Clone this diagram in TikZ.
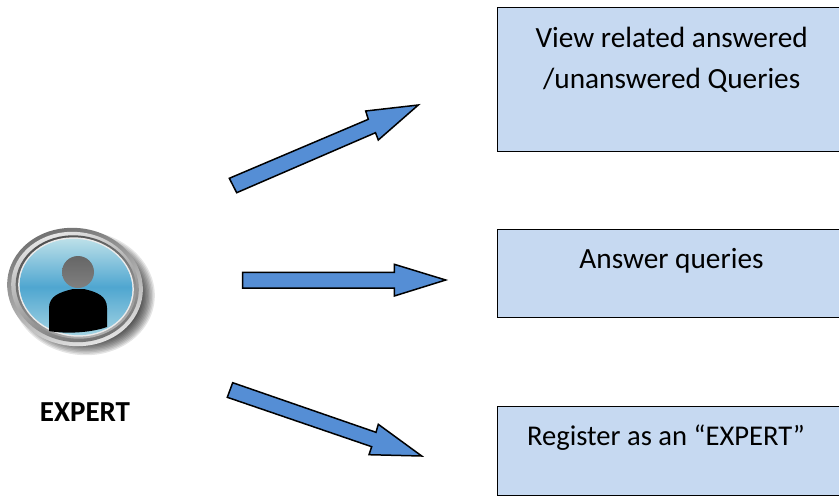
\documentclass[tikz,border=0pt]{standalone}
\usepackage{fontspec}
\setmainfont{Carlito}
\definecolor{boxfill}{HTML}{C6D9F1}
\definecolor{arrowfill}{HTML}{558ED5}
\definecolor{skytop}{HTML}{C4E4EA}
\definecolor{skymid}{HTML}{4FA6D0}
\definecolor{skybot}{HTML}{A8D6E4}
\definecolor{ringlite}{HTML}{E8E8E8}
\definecolor{ringdark}{HTML}{6E6E6E}
\tikzset{
  boxst/.style={draw=black,line width=1pt,fill=boxfill},
  boxtext/.style={font=\fontsize{29.3pt}{41pt}\selectfont,align=center,text=black,inner sep=0pt},
  blockarrow/.style={draw=black,line width=1.5pt,fill=arrowfill,line join=miter},
}
\begin{document}
\begin{tikzpicture}[x=1pt,y=-1pt]
\useasboundingbox (0,0) rectangle (839,496);
% boxes
\draw[boxst] (497,7) rectangle (845,151);
\draw[boxst] (497,229) rectangle (845,317);
\draw[boxst] (497,406) rectangle (845,495);
\node[boxtext] (t1) at (671.7,59.5) {View related answered\\/unanswered Queries};
\node[boxtext] (t2) at (671.5,260.5) {Answer queries};
\node[boxtext,font=\fontsize{28.6pt}{41pt}\selectfont] (t3) at (666,438) {Register as an “EXPERT”};
% arrows
\draw[blockarrow] (229.3,178.3)--(368.3,119.3)--(365.7,111)--(418.3,105)--(378.3,140)--(375.5,132.7)--(236.7,192.7)--cycle;
\draw[blockarrow] (242.7,272.3)--(394.3,272.3)--(394.3,264.3)--(445.7,280)--(394.3,296)--(394.3,288)--(242.7,288)--cycle;
\draw[blockarrow] (232.7,382.7)--(376,432.3)--(378.3,424.3)--(421.7,456)--(369,454.7)--(371.7,446.7)--(227.3,397.3)--cycle;
% icon shadow
\foreach \k in {0,...,9}{
  \fill[black,opacity=0.10,rotate around={-8:(83,293)}] (83,293) ellipse ({72-\k*1.4} and {62-\k*1.4});
}
% icon ring
\shade[top color=ringdark,bottom color=ringlite,middle color=ringdark!60!white,shading angle=20,rotate around={-8:(75,287)}] (75,287) ellipse (68 and 59);
\shade[top color=ringlite,bottom color=ringdark,shading angle=20,rotate around={-8:(75,287)}] (75,287) ellipse (64 and 55);
\shade[top color=black!70,bottom color=black!30,shading angle=20,rotate around={-8:(76,287)}] (76,287) ellipse (60.5 and 51.5);
\fill[white!92!black,rotate around={-8:(76,287)}] (76,287) ellipse (58 and 49.5);
\shade[top color=skytop,bottom color=skybot,middle color=skymid,rotate around={-8:(76,287)}] (76,287) ellipse (56.5 and 48);
% silhouette
\shade[top color=black!60,bottom color=black!50] (78,272) circle (16);
\fill[black] (49,331) -- (49,308) .. controls (49,296) and (60,292) .. (73,289) -- (84,289) .. controls (97,292) and (107,296) .. (107,308) -- (107,327) .. controls (90,333) and (65,334) .. (49,331) -- cycle;
% label
\node[font=\bfseries\fontsize{29pt}{34pt}\selectfont,inner sep=0pt] (lab) at (85,412) {EXPERT};
\end{tikzpicture}
\end{document}
